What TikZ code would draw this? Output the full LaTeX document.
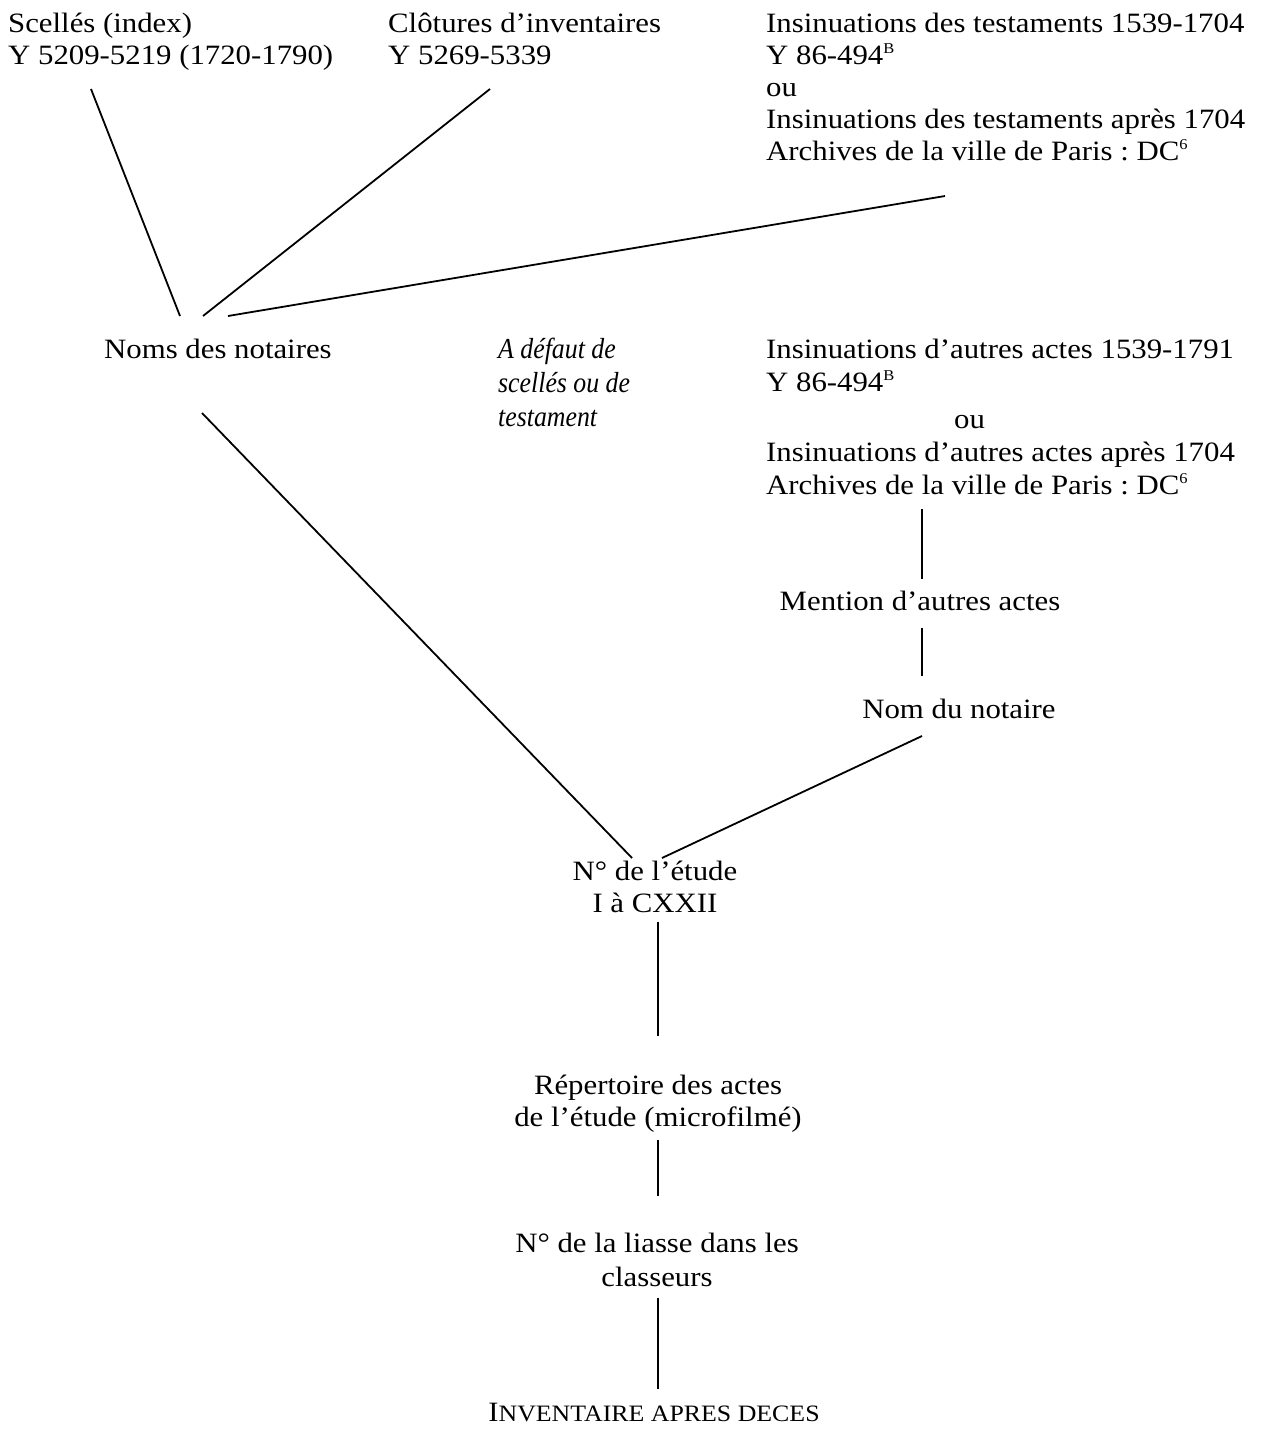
\documentclass[tikz,border=0pt]{standalone}
\usepackage{fontspec}
\setmainfont[FakeStretch=1.1]{Liberation Serif}
\newfontfamily\itfont[FakeStretch=0.89]{Liberation Serif}
\frenchspacing
\newcommand{\supr}[1]{\raisebox{10.5pt}{\fontsize{15}{15}\selectfont #1}}
\begin{document}
\begin{tikzpicture}[x=1pt,y=-1pt,
  txt/.style={inner sep=0pt, font=\fontsize{28}{32}\selectfont},
  lft/.style={txt, anchor=north west, align=left},
  ctr/.style={txt, anchor=north, align=center},
  conn/.style={line width=1.8pt}]
\useasboundingbox (0,0) rectangle (1261,1438);
\def\st{\rule{0pt}{24pt}}
\node[lft] (A) at (8,8) {\st Scellés (index)\\Y 5209-5219 (1720-1790)};
\node[lft] (B) at (388,8) {\st Clôtures d’inventaires\\Y 5269-5339};
\node[lft] (C) at (766,8) {\st Insinuations des testaments 1539-1704\\Y 86-494\supr{B}\\ou\\Insinuations des testaments après 1704\\Archives de la ville de Paris : DC\supr{6}};
\node[lft] (D) at (104,334) {\st Noms des notaires};
\node[lft, font=\fontsize{29}{34}\selectfont\itfont\itshape] (E) at (498,334) {\st A défaut de\\scellés ou de\\testament};
\node[lft, font=\fontsize{28}{33}\selectfont] (F) at (766,334) {\st Insinuations d’autres actes 1539-1791\\Y 86-494\supr{B}\\[4pt]\hspace*{188pt}ou\\Insinuations d’autres actes après 1704\\Archives de la ville de Paris : DC\supr{6}};
\node[ctr] (G) at (920,586) {\st Mention d’autres actes};
\node[ctr] (H) at (959,694) {\st Nom du notaire};
\node[ctr] (I) at (655,856) {\st N° de l’étude\\I à CXXII};
\node[ctr] (J) at (658,1070) {\st Répertoire des actes\\de l’étude (microfilmé)};
\node[ctr, font=\fontsize{28}{34}\selectfont] (K) at (657,1228) {\st N° de la liasse dans les\\classeurs};
\node[ctr] (L) at (654,1397) {\st I{\fontsize{23.5}{32}\selectfont NVENTAIRE APRES DECES}};

\coordinate (a1) at (91,89);   \coordinate (a2) at (180,316);
\coordinate (b1) at (490,89);  \coordinate (b2) at (203,316);
\coordinate (c1) at (945,196); \coordinate (c2) at (228,316);
\coordinate (d1) at (202,413); \coordinate (d2) at (632,858);
\coordinate (f1) at (922,509); \coordinate (g1) at (922,579);
\coordinate (g2) at (922,628); \coordinate (h1) at (922,676);
\coordinate (h2) at (922,736); \coordinate (i1) at (662,858);
\coordinate (i2) at (658,922); \coordinate (j1) at (658,1036);
\coordinate (j2) at (658,1140); \coordinate (k1) at (658,1196);
\coordinate (k2) at (658,1298); \coordinate (l1) at (658,1389);

\draw[conn] (a1) -- (a2);
\draw[conn] (b1) -- (b2);
\draw[conn] (c1) -- (c2);
\draw[conn] (d1) -- (d2);
\draw[conn] (f1) -- (g1);
\draw[conn] (g2) -- (h1);
\draw[conn] (h2) -- (i1);
\draw[conn] (i2) -- (j1);
\draw[conn] (j2) -- (k1);
\draw[conn] (k2) -- (l1);
\end{tikzpicture}
\end{document}
